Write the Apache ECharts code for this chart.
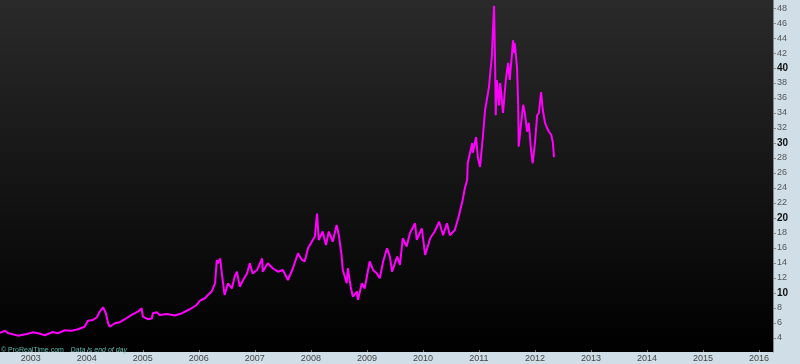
<!DOCTYPE html>
<html><head><meta charset="utf-8">
<script src="https://cdn.jsdelivr.net/npm/echarts@6/dist/echarts.min.js"></script>
<style>html,body{margin:0;padding:0;background:#cfdee7;}#c{width:800px;height:364px;}</style>
</head><body><div id="c"></div>
<script>
// decimal years
const years = [2002.45,2002.54,2002.59,2002.77,2002.93,2003.04,2003.13,2003.25,2003.39,2003.48,2003.61,2003.73,2003.84,2003.96,
2004.02,2004.11,2004.18,2004.23,2004.29,2004.34,2004.38,2004.41,2004.50,2004.59,2004.68,2004.80,2004.91,2004.98,
2005.00,2005.09,2005.16,2005.18,2005.25,2005.30,2005.43,2005.57,2005.70,2005.84,2005.96,
2006.02,2006.11,2006.16,2006.23,2006.29,2006.32,2006.34,2006.38,2006.41,2006.46,2006.52,2006.59,2006.64,2006.68,2006.73,2006.79,2006.86,2006.91,2006.96,
2007.04,2007.13,2007.14,2007.23,2007.32,2007.41,2007.50,2007.59,2007.68,2007.77,2007.84,2007.89,2007.95,2007.98,
2008.07,2008.11,2008.14,2008.21,2008.27,2008.32,2008.39,2008.46,2008.50,2008.55,2008.57,2008.64,2008.66,2008.71,2008.75,2008.82,2008.84,2008.91,2008.96,
2009.05,2009.11,2009.18,2009.23,2009.29,2009.36,2009.41,2009.45,2009.54,2009.59,2009.64,2009.71,2009.77,2009.86,2009.89,2009.98,
2010.04,2010.13,2010.21,2010.29,2010.36,2010.43,2010.48,2010.57,2010.63,2010.66,2010.71,2010.75,2010.79,2010.80,2010.88,2010.89,2010.95,2010.98,
2011.02,2011.07,2011.11,2011.14,2011.18,2011.23,2011.27,2011.29,2011.30,2011.32,2011.36,2011.38,2011.41,2011.43,2011.48,2011.52,2011.55,2011.61,2011.63,2011.64,2011.68,2011.70,2011.71,2011.75,2011.79,2011.82,2011.86,2011.89,2011.93,2011.96,
2012.00,2012.04,2012.07,2012.11,2012.14,2012.18,2012.21,2012.25,2012.29,2012.32,2012.34];
const prices = [4.7,4.97,4.67,4.31,4.53,4.76,4.63,4.36,4.8,4.63,5.03,4.97,5.16,5.5,
6.3,6.4,6.76,7.5,8.1,7.3,5.96,5.5,5.96,6.1,6.5,7.07,7.5,7.96,
6.84,6.5,6.6,7.3,7.43,7.07,7.2,7.0,7.3,7.83,8.4,
8.97,9.3,9.73,10.2,11.3,14.4,13.96,14.6,12.6,9.73,11.3,10.6,12.2,12.84,10.84,11.73,12.6,13.96,12.6,
13.07,14.6,12.84,13.96,13.3,12.84,13.07,11.73,13.3,15.3,14.4,14.2,16.0,16.2,
17.5,20.6,17.07,18.2,16.4,18.2,16.84,19.07,17.7,14.84,13.07,11.3,13.3,10.84,9.5,10.2,9.07,11.3,10.6,
14.2,13.07,12.6,11.96,14.2,15.96,14.84,12.84,14.84,13.73,17.3,16.2,18.0,19.3,17.07,18.6,
15.07,17.3,18.2,19.5,17.7,19.3,17.7,18.4,19.96,20.84,22.4,24.0,25.07,27.3,30.0,28.7,30.8,28.1,
26.8,30.8,34.4,35.7,37.5,41.5,48.3,40.1,33.7,38.4,35.0,38.0,35.7,34.0,38.4,40.7,38.4,43.7,42.0,43.3,40.1,35.3,29.5,32.4,35.1,34.0,31.5,32.7,29.1,27.3,
30.0,33.7,34.0,36.8,34.4,32.7,32.1,31.5,31.1,30.1,28.1];
const yearTicks = [2003,2004,2005,2006,2007,2008,2009,2010,2011,2012,2013,2014,2015,2016];
const priceTicks = [4,6,8,10,12,14,16,18,20,22,24,26,28,30,32,34,36,38,40,42,44,46,48];
const boldTicks = [10,20,30,40];

const chart = echarts.init(document.getElementById('c'));
chart.setOption({
  animation:false,
  backgroundColor:'#cfdee7',
  grid:{left:0,right:27,top:0,bottom:12,show:true,borderWidth:0,
    backgroundColor:{type:'linear',x:0,y:0,x2:0,y2:1,colorStops:[{offset:0,color:'#2a2a2a'},{offset:0.5,color:'#151515'},{offset:1,color:'#000000'}]}},
  xAxis:{type:'value',min:2002.45,max:2016.25,
    axisLine:{show:false},
    splitLine:{show:false},
    axisTick:{show:true,inside:true,length:2,customValues:yearTicks,lineStyle:{color:'#777'}},
    axisLabel:{customValues:yearTicks,margin:2,fontSize:9,color:'#444',fontFamily:'Liberation Sans, Arial',formatter:v=>String(v)}},
  yAxis:{type:'value',position:'right',min:2.13,max:49.07,
    axisLine:{show:true,lineStyle:{color:'#888',width:1}},
    splitLine:{show:false},
    axisTick:{show:true,length:3,customValues:priceTicks,lineStyle:{color:'#888'}},
    axisLabel:{customValues:priceTicks,margin:4,fontSize:9,color:'#555',fontFamily:'Liberation Sans, Arial',
      formatter:v=>boldTicks.indexOf(v)>=0?'{b|'+v+'}':String(v),
      rich:{b:{fontWeight:'bold',fontSize:10,color:'#111',fontFamily:'Liberation Sans, Arial'}}}},
  graphic:[{type:'text',left:1,top:344,style:{text:'{a|© ProRealTime.com}  {b|Data is end of day}',
    rich:{a:{fontSize:7,fontFamily:'Liberation Sans, Arial',fill:'#5fbcb0',color:'#5fbcb0'},
          b:{fontSize:7,fontStyle:'italic',fontFamily:'Liberation Sans, Arial',fill:'#5fbcb0',color:'#5fbcb0'}}}}],
  series:[{type:'line',data:years.map((y,i)=>[y,prices[i]]),showSymbol:false,
    lineStyle:{color:'#ff00ff',width:2},itemStyle:{color:'#ff00ff'}}]
});
</script></body></html>
